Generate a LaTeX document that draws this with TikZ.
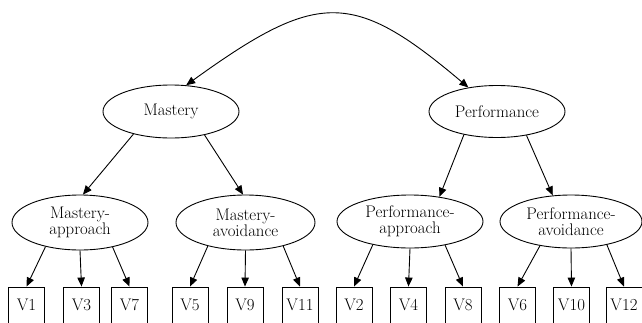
\documentclass[tikz,border=0pt]{standalone}
\usetikzlibrary{shapes.geometric,arrows.meta}
\begin{document}
\begin{tikzpicture}[x=1pt,y=-1pt,
  every node/.style={font=\fontsize{16.8}{16}\selectfont},
  ell/.style={draw,ellipse,inner sep=0pt,align=center,line width=0.9pt},
  vbox/.style={draw,rectangle,inner xsep=0pt,inner ysep=0pt,minimum width=36pt,
    text height=23pt,text depth=30pt,anchor=base,line width=0.9pt},
  arr/.style={line width=0.9pt,-{Triangle[length=9pt,width=7.5pt]}},
  dbl/.style={line width=0.9pt,{Triangle[length=9pt,width=7.5pt]}-{Triangle[length=9pt,width=7.5pt]}}]
\useasboundingbox (0,0) rectangle (642,322);
\clip (0,0) rectangle (642,322);
% level 1
\node[ell,minimum width=136pt,minimum height=53pt] (m) at (171,111.5) {Mastery};
\node[ell,minimum width=136pt,minimum height=52pt] (p) at (497,111.5) {Performance};
% level 2
\node[ell,minimum width=136pt,minimum height=55pt] (ma) at (80,222.5) {Mastery-\\approach};
\node[ell,minimum width=139pt,minimum height=55pt] (mv) at (245.5,222.5) {Mastery-\\avoidance};
\node[ell,minimum width=146pt,minimum height=53pt] (pa) at (410,221.5) {Performance-\\approach};
\node[ell,minimum width=142pt,minimum height=53pt] (pv) at (571,221.5) {Performance-\\avoidance};
% boxes
\node[vbox] (v1) at (26.5,310) {V1};
\node[vbox] (v3) at (81.5,310) {V3};
\node[vbox] (v7) at (129.5,310) {V7};
\node[vbox] (v5) at (190,310) {V5};
\node[vbox] (v9) at (245,310) {V9};
\node[vbox] (v11) at (300,310) {V11};
\node[vbox] (v2) at (354,310) {V2};
\node[vbox] (v4) at (408.5,310) {V4};
\node[vbox] (v8) at (463,310) {V8};
\node[vbox] (v6) at (517.5,310) {V6};
\node[vbox] (v10) at (571.5,310) {V10};
\node[vbox] (v12) at (624,310) {V12};
% top curve
\draw[dbl] (m.60) .. controls (318,-10) and (353,-10) .. (p.140);
% level1 -> level2
\draw[arr] (m.211) -- (ma.84);
\draw[arr] (m.325) -- (mv.95);
\draw[arr] (p.215) -- (pa.40);
\draw[arr] (p.321) -- (pv.125);
% level2 -> boxes
\draw[arr] (ma.215) -- (v1.north);
\draw[arr] (ma.south) -- (v3.north);
\draw[arr] (ma.323) -- (v7.north);
\draw[arr] (mv.212) -- (v5.north);
\draw[arr] (mv.south) -- (v9.north);
\draw[arr] (mv.328) -- (v11.north);
\draw[arr] (pa.212) -- (v2.north);
\draw[arr] (pa.south) -- (v4.north);
\draw[arr] (pa.326) -- (v8.north);
\draw[arr] (pv.218) -- (v6.north);
\draw[arr] (pv.south) -- (v10.north);
\draw[arr] (pv.327) -- (v12.north);
\end{tikzpicture}
\end{document}
